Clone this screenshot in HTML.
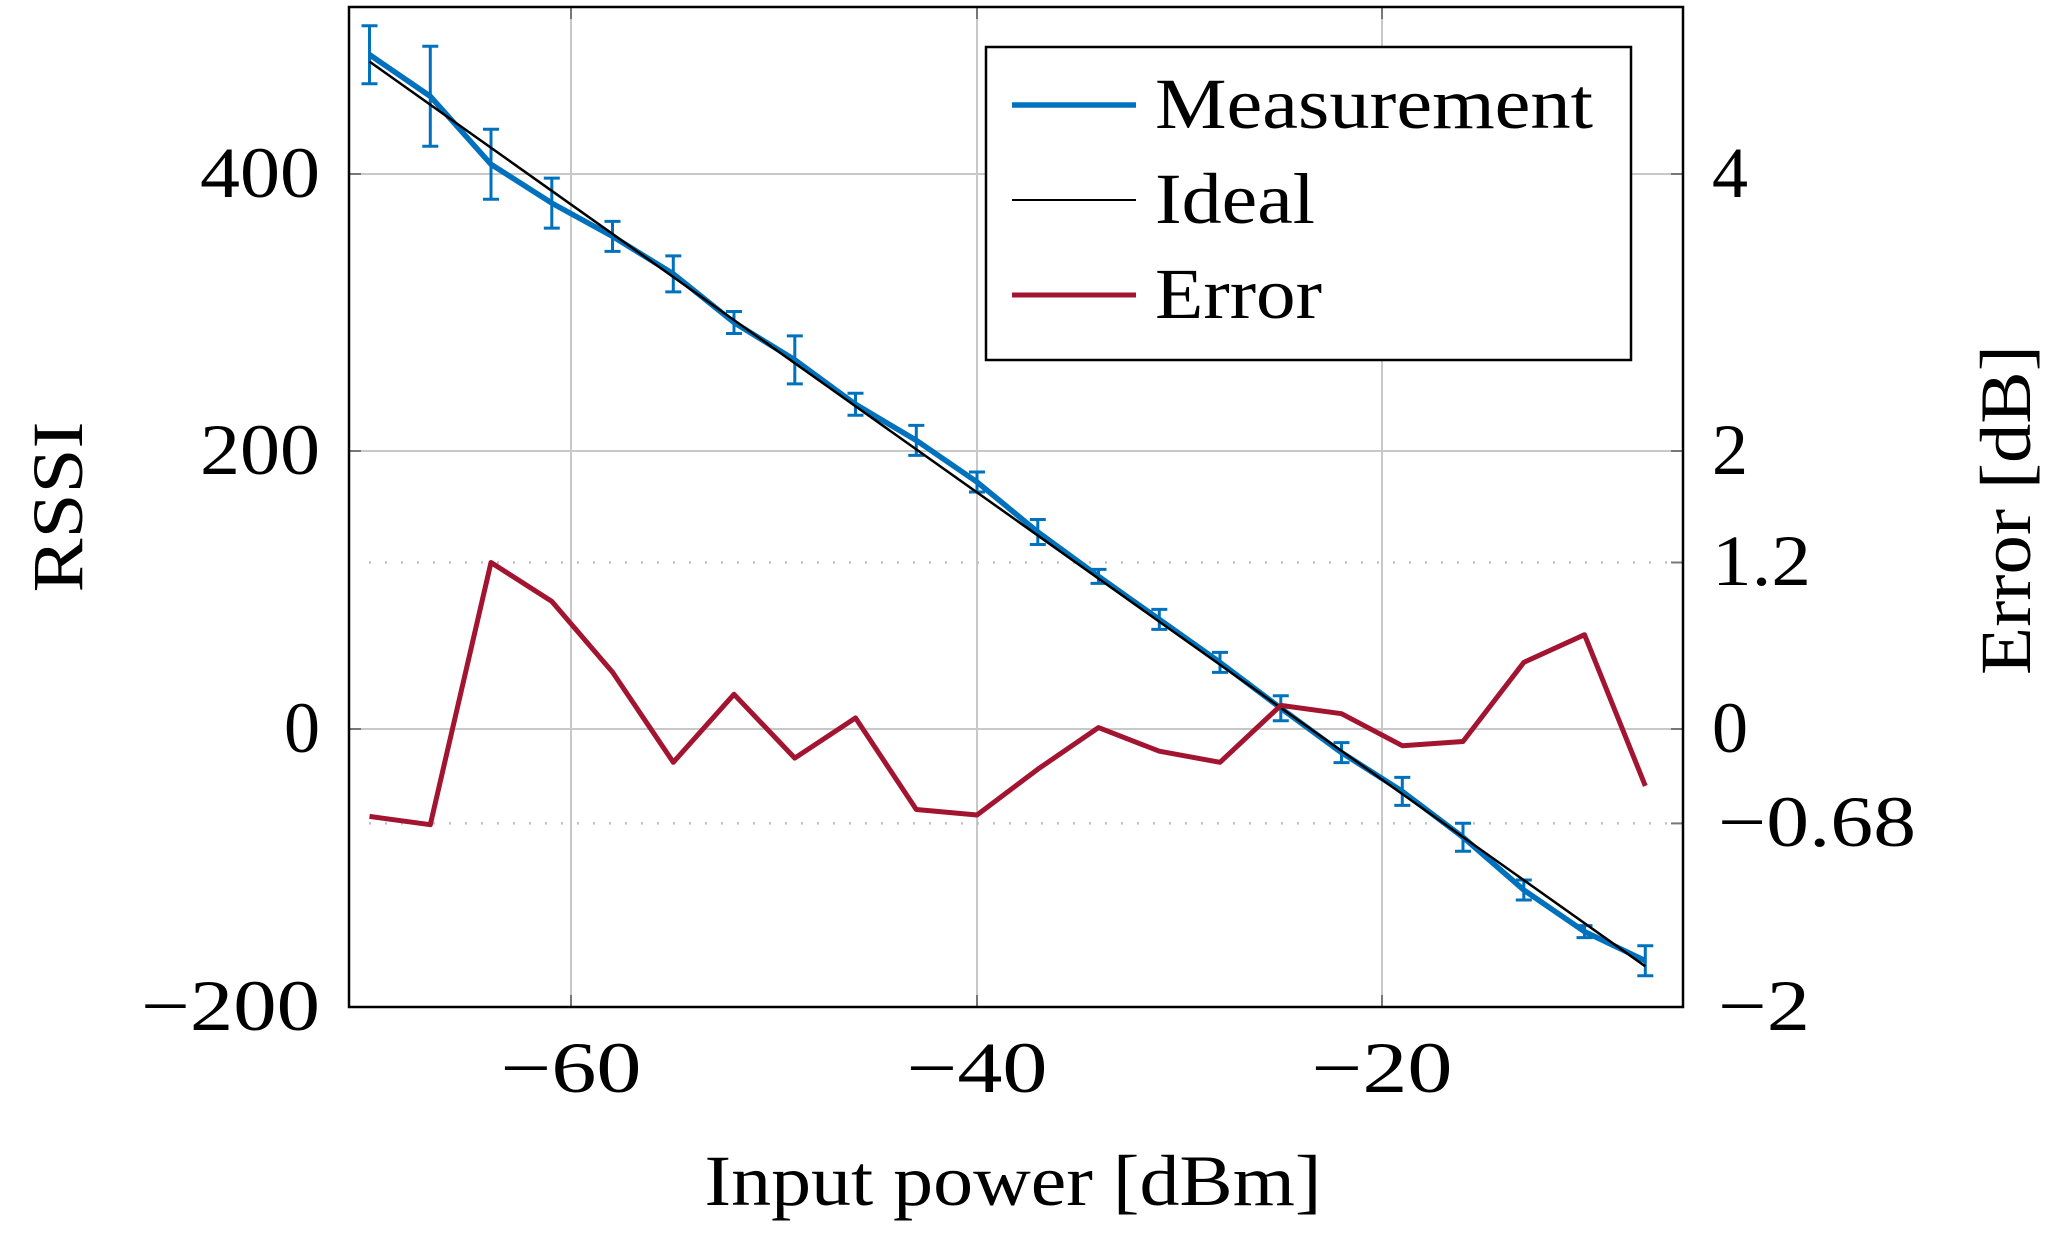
<!DOCTYPE html>
<html><head><meta charset="utf-8"><style>
html,body{margin:0;padding:0;background:#fff;}
svg{display:block;}
text{font-family:"Liberation Serif",serif;fill:#000;}
</style></head><body>
<svg width="2067" height="1242" viewBox="0 0 2067 1242" xmlns="http://www.w3.org/2000/svg">
<g stroke="#c8c8c8" stroke-width="2">
<line x1="571" y1="7" x2="571" y2="1007"/>
<line x1="977" y1="7" x2="977" y2="1007"/>
<line x1="1382" y1="7" x2="1382" y2="1007"/>
<line x1="349" y1="174" x2="1683" y2="174"/>
<line x1="349" y1="451" x2="1683" y2="451"/>
<line x1="349" y1="729" x2="1683" y2="729"/>
</g>
<g stroke="#c0c0c0" stroke-width="2.5" stroke-dasharray="2,14">
<line x1="369" y1="562.5" x2="1683" y2="562.5"/>
<line x1="369" y1="823.4" x2="1683" y2="823.4"/>
</g>
<g stroke="#777" stroke-width="2">
<line x1="571" y1="1007" x2="571" y2="995"/><line x1="977" y1="1007" x2="977" y2="995"/><line x1="1382" y1="1007" x2="1382" y2="995"/>
<line x1="571" y1="7" x2="571" y2="19"/><line x1="977" y1="7" x2="977" y2="19"/><line x1="1382" y1="7" x2="1382" y2="19"/>
<line x1="349" y1="174" x2="361" y2="174"/><line x1="349" y1="451" x2="361" y2="451"/><line x1="349" y1="729" x2="361" y2="729"/>
<line x1="1683" y1="174" x2="1671" y2="174"/><line x1="1683" y1="451" x2="1671" y2="451"/><line x1="1683" y1="729" x2="1671" y2="729"/><line x1="1683" y1="562.5" x2="1671" y2="562.5"/><line x1="1683" y1="823.4" x2="1671" y2="823.4"/>
</g>
<g stroke="#0072BD" stroke-width="3" fill="none">
<path d="M369.5 25.7V83.7M361.5 25.7H377.5M361.5 83.7H377.5"/>
<path d="M430.3 46.3V146.3M422.3 46.3H438.3M422.3 146.3H438.3"/>
<path d="M491 129.3V199.3M483 129.3H499M483 199.3H499"/>
<path d="M551.8 178.1V228.1M543.8 178.1H559.8M543.8 228.1H559.8"/>
<path d="M612.5 221.4V251.4M604.5 221.4H620.5M604.5 251.4H620.5"/>
<path d="M673.3 255.9V291.9M665.3 255.9H681.3M665.3 291.9H681.3"/>
<path d="M734 311.5V333.5M726 311.5H742M726 333.5H742"/>
<path d="M794.8 335.9V383.9M786.8 335.9H802.8M786.8 383.9H802.8"/>
<path d="M855.5 393.3V415.3M847.5 393.3H863.5M847.5 415.3H863.5"/>
<path d="M916.3 425.4V455.4M908.3 425.4H924.3M908.3 455.4H924.3"/>
<path d="M977 472V492M969 472H985M969 492H985"/>
<path d="M1037.8 519.5V544.5M1029.8 519.5H1045.8M1029.8 544.5H1045.8"/>
<path d="M1098.5 569.4V583.4M1090.5 569.4H1106.5M1090.5 583.4H1106.5"/>
<path d="M1159.3 609.4V629.4M1151.3 609.4H1167.3M1151.3 629.4H1167.3"/>
<path d="M1220 652.4V672.4M1212 652.4H1228M1212 672.4H1228"/>
<path d="M1280.8 695.7V720.7M1272.8 695.7H1288.8M1272.8 720.7H1288.8"/>
<path d="M1341.5 742.6V762.6M1333.5 742.6H1349.5M1333.5 762.6H1349.5"/>
<path d="M1402.3 777.4V805.4M1394.3 777.4H1410.3M1394.3 805.4H1410.3"/>
<path d="M1463 823.2V851.2M1455 823.2H1471M1455 851.2H1471"/>
<path d="M1523.8 880V900M1515.8 880H1531.8M1515.8 900H1531.8"/>
<path d="M1584.5 925.6V937.6M1576.5 925.6H1592.5M1576.5 937.6H1592.5"/>
<path d="M1645.3 945.7V975.7M1637.3 945.7H1653.3M1637.3 975.7H1653.3"/>
</g>
<polyline fill="none" stroke="#0072BD" stroke-width="5.5" stroke-linejoin="round" points="369.5,54.7 430.3,96.3 491,164.3 551.8,203.1 612.5,236.4 673.3,273.9 734,322.5 794.8,359.9 855.5,404.3 916.3,440.4 977,482 1037.8,532 1098.5,576.4 1159.3,619.4 1220,662.4 1280.8,708.2 1341.5,752.6 1402.3,791.4 1463,837.2 1523.8,890 1584.5,931.6 1645.3,960.7"/>
<line x1="369.5" y1="61.6" x2="1645.3" y2="966.3" stroke="#000" stroke-width="2.5"/>
<polyline fill="none" stroke="#A2142F" stroke-width="5" stroke-linejoin="round" points="369.5,816.4 430.3,824.7 491,562.5 551.8,601.4 612.5,672.1 673.3,762.3 734,694.3 794.8,758.1 855.5,717.9 916.3,809.5 977,815 1037.8,769.2 1098.5,727.6 1159.3,751.2 1220,762.3 1280.8,705.4 1341.5,713.7 1402.3,745.7 1463,741.5 1523.8,662.4 1584.5,634.7 1645.3,785.9"/>
<rect x="349" y="7" width="1334" height="1000" fill="none" stroke="#000" stroke-width="2.5"/>
<rect x="986" y="47" width="645" height="313" fill="#fff" stroke="#000" stroke-width="2.5"/>
<line x1="1012" y1="105" x2="1136" y2="105" stroke="#0072BD" stroke-width="5.5"/>
<line x1="1012" y1="200" x2="1136" y2="200" stroke="#000" stroke-width="2"/>
<line x1="1012" y1="295" x2="1136" y2="295" stroke="#A2142F" stroke-width="5"/>
<g font-size="72" lengthAdjust="spacingAndGlyphs">
<text x="1155" y="128" textLength="438" lengthAdjust="spacingAndGlyphs">Measurement</text>
<text x="1155" y="223" textLength="160" lengthAdjust="spacingAndGlyphs">Ideal</text>
<text x="1155" y="318" textLength="167" lengthAdjust="spacingAndGlyphs">Error</text>
</g>
<g font-size="72" text-anchor="end">
<text x="320" y="197" textLength="120" lengthAdjust="spacingAndGlyphs">400</text>
<text x="320" y="474" textLength="120" lengthAdjust="spacingAndGlyphs">200</text>
<text x="320" y="752" textLength="36" lengthAdjust="spacingAndGlyphs">0</text>
<text x="320" y="1030" textLength="179" lengthAdjust="spacingAndGlyphs">−200</text>
</g>
<g font-size="72">
<text x="1712" y="197">4</text>
<text x="1712" y="474">2</text>
<text x="1712" y="585" textLength="99" lengthAdjust="spacingAndGlyphs">1.2</text>
<text x="1712" y="752">0</text>
<text x="1718" y="846" textLength="198" lengthAdjust="spacingAndGlyphs">−0.68</text>
<text x="1718" y="1030" textLength="92" lengthAdjust="spacingAndGlyphs">−2</text>
</g>
<g font-size="72" text-anchor="middle">
<text x="571" y="1092" textLength="141" lengthAdjust="spacingAndGlyphs">−60</text>
<text x="977" y="1092" textLength="141" lengthAdjust="spacingAndGlyphs">−40</text>
<text x="1382" y="1092" textLength="141" lengthAdjust="spacingAndGlyphs">−20</text>
<text x="1013" y="1205" textLength="617" lengthAdjust="spacingAndGlyphs">Input power [dBm]</text>
<text transform="translate(82,507) rotate(-90)" textLength="171" lengthAdjust="spacingAndGlyphs">RSSI</text>
<text transform="translate(2030,510) rotate(-90)" textLength="330" lengthAdjust="spacingAndGlyphs">Error [dB]</text>
</g>
</svg>
</body></html>
